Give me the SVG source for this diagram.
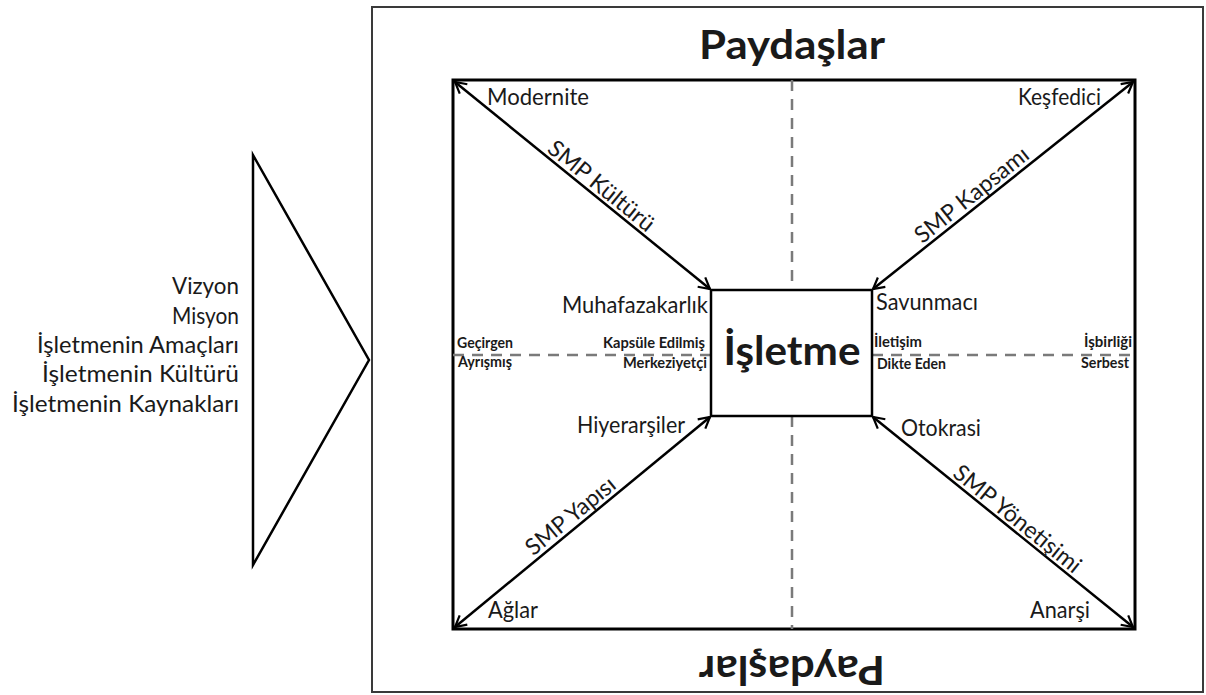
<svg xmlns="http://www.w3.org/2000/svg" width="1206" height="695" viewBox="0 0 1206 695">
<defs>
<marker id="arr" viewBox="0 0 14 14" refX="13" refY="7" markerWidth="14" markerHeight="14" markerUnits="userSpaceOnUse" orient="auto-start-reverse">
<path d="M2,1 L13,7 L2,13" fill="none" stroke="#000" stroke-width="2.2" stroke-linejoin="miter"/>
</marker>
<style>
text{font-family:Lato,"Open Sans","Noto Sans",sans-serif;fill:#1a1a1a}
.lbl{font-size:23px}
.sm{font-size:15px;font-weight:bold}
.big{font-size:40px;font-weight:bold;text-anchor:middle}
.end{text-anchor:end}
.mid{text-anchor:middle}
.arrow{stroke:#000;stroke-width:2.5;fill:none;marker-start:url(#arr);marker-end:url(#arr)}
.dash{stroke:#7a7a7a;stroke-width:2.5;stroke-dasharray:11 8;fill:none}
</style>
</defs>
<rect id="frame" x="372" y="7" width="831" height="685" fill="none" stroke="#3a3a3a" stroke-width="2"/>
<g id="inputs">
<polygon points="253,155 369,360 253,565" fill="none" stroke="#000" stroke-width="2.5" stroke-linejoin="miter"/>
<text class="lbl end" x="239" y="294" textLength="67" lengthAdjust="spacingAndGlyphs">Vizyon</text>
<text class="lbl end" x="239" y="324" textLength="67" lengthAdjust="spacingAndGlyphs">Misyon</text>
<text class="lbl end" x="239" y="353" textLength="202" lengthAdjust="spacingAndGlyphs">İşletmenin Amaçları</text>
<text class="lbl end" x="239" y="382" textLength="197" lengthAdjust="spacingAndGlyphs">İşletmenin Kültürü</text>
<text class="lbl end" x="239" y="412" textLength="227" lengthAdjust="spacingAndGlyphs">İşletmenin Kaynakları</text>
</g>
<g id="stakeholders-top"><text class="big" x="792" y="59" textLength="186" lengthAdjust="spacingAndGlyphs">Paydaşlar</text></g>
<g id="stakeholders-bottom"><text class="big" x="792" y="656" transform="rotate(180 792 656)" textLength="186" lengthAdjust="spacingAndGlyphs">Paydaşlar</text></g>
<g id="field">
<rect x="453" y="80" width="682" height="549" fill="none" stroke="#000" stroke-width="3"/>
</g>
<g id="connectors">
<line class="dash" x1="453" y1="355" x2="711" y2="355"/>
<line class="dash" x1="872" y1="355" x2="1135" y2="355"/>
<line class="dash" x1="792" y1="80" x2="792" y2="290"/>
<line class="dash" x1="792" y1="416" x2="792" y2="629"/>
<line class="arrow" x1="455" y1="82" x2="710" y2="289"/>
<line class="arrow" x1="1133" y1="82" x2="873" y2="289"/>
<line class="arrow" x1="455" y1="627" x2="710" y2="417"/>
<line class="arrow" x1="1133" y1="627" x2="873" y2="417"/>
</g>
<g id="isletme">
<rect x="711" y="290" width="161" height="126" fill="#fff" stroke="#000" stroke-width="2.5"/>
<text class="big" x="792" y="365" font-size="42" textLength="137" lengthAdjust="spacingAndGlyphs">İşletme</text>
</g>
<g id="culture">
<text class="lbl" x="487" y="105" textLength="102" lengthAdjust="spacingAndGlyphs">Modernite</text>
<text class="lbl end" x="708" y="313" textLength="146" lengthAdjust="spacingAndGlyphs">Muhafazakarlık</text>
<text class="lbl mid" x="0" y="-4" transform="translate(594 195) rotate(39.1)" textLength="130" lengthAdjust="spacingAndGlyphs">SMP Kültürü</text>
</g>
<g id="scope">
<text class="lbl end" x="1101" y="105" textLength="83" lengthAdjust="spacingAndGlyphs">Keşfedici</text>
<text class="lbl" x="876" y="310" textLength="102" lengthAdjust="spacingAndGlyphs">Savunmacı</text>
<text class="lbl mid" x="0" y="-4" transform="translate(979 204) rotate(-38.7)" textLength="139" lengthAdjust="spacingAndGlyphs">SMP Kapsamı</text>
</g>
<g id="structure">
<text class="lbl end" x="685" y="433" textLength="108" lengthAdjust="spacingAndGlyphs">Hiyerarşiler</text>
<text class="lbl" x="488" y="618" textLength="50" lengthAdjust="spacingAndGlyphs">Ağlar</text>
<text class="lbl mid" x="0" y="-4" transform="translate(578 525) rotate(-39.4)" textLength="109" lengthAdjust="spacingAndGlyphs">SMP Yapısı</text>
</g>
<g id="governance">
<text class="lbl" x="901" y="436" textLength="80" lengthAdjust="spacingAndGlyphs">Otokrasi</text>
<text class="lbl end" x="1090" y="618" textLength="60" lengthAdjust="spacingAndGlyphs">Anarşi</text>
<text class="lbl mid" x="0" y="-4" transform="translate(1010 528) rotate(38.96)" textLength="157" lengthAdjust="spacingAndGlyphs">SMP Yönetişimi</text>
</g>
<g id="axis-labels">
<text class="sm" x="457" y="348" textLength="56" lengthAdjust="spacingAndGlyphs">Geçirgen</text>
<text class="sm" x="458" y="367" textLength="54" lengthAdjust="spacingAndGlyphs">Ayrışmış</text>
<text class="sm end" x="705" y="348" textLength="102" lengthAdjust="spacingAndGlyphs">Kapsüle Edilmiş</text>
<text class="sm end" x="707" y="368" textLength="84" lengthAdjust="spacingAndGlyphs">Merkeziyetçi</text>
<text class="sm" x="874" y="347" textLength="48" lengthAdjust="spacingAndGlyphs">İletişim</text>
<text class="sm" x="877" y="369" textLength="69" lengthAdjust="spacingAndGlyphs">Dikte Eden</text>
<text class="sm end" x="1132" y="347" textLength="48" lengthAdjust="spacingAndGlyphs">İşbirliği</text>
<text class="sm end" x="1129" y="368" textLength="48" lengthAdjust="spacingAndGlyphs">Serbest</text>
</g>
</svg>
